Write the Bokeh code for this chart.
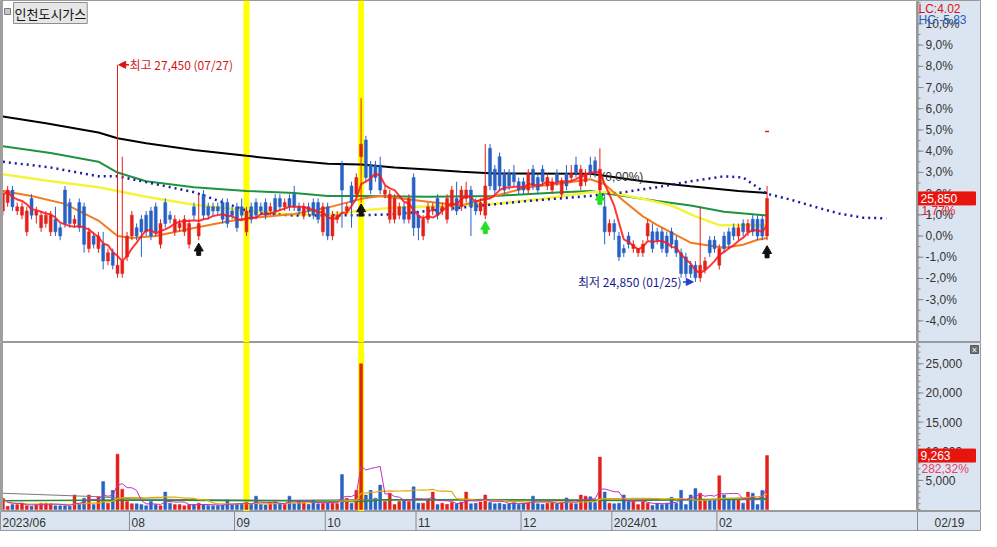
import numpy as np
import pandas as pd
from bokeh.plotting import figure
from bokeh.layouts import column, row
from bokeh.models import (Range1d, Label, Arrow, NormalHead, BoxAnnotation,
                          ColumnDataSource)
from bokeh.core.properties import value
from bokeh.embed import file_html
from bokeh.resources import INLINE

# ---------------- data (daily candles, trading-day index) ----------------
opens = [
    25700, 25800, 25950, 25700, 25650, 25450, 25850, 25650, 25500, 25550,
    25450, 25600, 25500, 25950, 25800, 25550, 25800, 25750, 25250, 25400,
    25250, 25300, 25100, 25200, 24950, 24950, 25150, 25400, 25500, 25600,
    25650, 25700, 25750, 25300, 25800, 25650, 25450, 25500, 25450, 25300,
    25750, 25400, 25900, 25750, 25750, 25750, 25800, 25800, 25700, 25750,
    25750, 25450, 25750, 25800, 25750, 25800, 25700, 25850, 25850, 25750,
    25850, 25900, 25750, 25650, 25750, 25800, 25800, 25450, 25750, 25400,
    25600, 26250, 25700, 26000, 25900, 26350, 26550, 26250, 26250, 26250,
    25900, 25600, 25600, 25650, 25750, 25600, 26100, 25650, 25400, 25600,
    25700, 25850, 25700, 25600, 25750, 25850, 25750, 25850, 25950, 25800,
    25700, 25650, 26450, 26200, 26350, 26150, 26150, 26150, 26050, 26050,
    25950, 26200, 26100, 26200, 26000, 25950, 26150, 25900, 26150, 26100,
    26250, 26000, 26050, 26250, 26300, 25950, 25750, 25450, 25550, 25400,
    25250, 25400, 25250, 25200, 25200, 25400, 25450, 25450, 25450, 25400,
    25450, 25350, 25200, 25150, 25050, 25050, 24900, 25000, 25350, 25350,
    25050, 25400, 25450, 25500, 25400, 25550, 25450, 25600, 25600, 25600,
    25400]
highs = [
    25950, 26000, 26000, 25800, 25800, 25750, 25900, 25750, 25700, 25700,
    25700, 25750, 25550, 26000, 25850, 25650, 25850, 25800, 25500, 25450,
    25450, 25450, 25250, 25250, 27450, 26350, 25450, 25700, 25550, 25650,
    25700, 25750, 25800, 25600, 25850, 25700, 25650, 25600, 25650, 25600,
    25800, 25900, 25950, 25800, 25800, 25800, 25850, 25850, 25750, 25800,
    25850, 25750, 25800, 25850, 25800, 25850, 25800, 25900, 25900, 25850,
    25900, 26000, 25800, 25800, 25800, 25850, 25850, 25800, 25800, 25700,
    25700, 26300, 25800, 26050, 26150, 27050, 26600, 26300, 26300, 26350,
    26000, 25950, 25900, 25800, 25800, 25900, 26150, 25700, 25650, 25800,
    25800, 25900, 25800, 25900, 26000, 26050, 26000, 26050, 26000, 25850,
    25850, 26500, 26500, 26250, 26400, 26200, 26200, 26250, 26100, 26100,
    26200, 26250, 26150, 26250, 26150, 26100, 26200, 26100, 26250, 26250,
    26350, 26250, 26200, 26350, 26350, 26450, 25900, 25600, 25600, 25450,
    25300, 25450, 25350, 25250, 25350, 25600, 25550, 25500, 25500, 25450,
    25500, 25400, 25250, 25200, 25100, 25100, 25750, 25150, 25400, 25400,
    25300, 25450, 25500, 25550, 25550, 25600, 25600, 25650, 25650, 25650,
    26000]
lows = [
    25650, 25750, 25700, 25650, 25600, 25400, 25600, 25550, 25450, 25500,
    25400, 25400, 25350, 25500, 25500, 25500, 25450, 25200, 25200, 25250,
    25200, 25000, 25050, 25000, 24900, 24900, 25100, 25350, 25350, 25150,
    25400, 25350, 25400, 25250, 25500, 25550, 25400, 25450, 25400, 25250,
    25600, 25350, 25600, 25600, 25650, 25650, 25550, 25500, 25600, 25450,
    25600, 25400, 25550, 25600, 25650, 25600, 25650, 25650, 25700, 25700,
    25700, 25700, 25650, 25600, 25650, 25600, 25550, 25400, 25350, 25350,
    25550, 25500, 25650, 25500, 25850, 25800, 26050, 25900, 26050, 25900,
    25850, 25550, 25550, 25600, 25550, 25550, 25400, 25350, 25350, 25550,
    25650, 25600, 25650, 25550, 25700, 25650, 25700, 25800, 25400, 25650,
    25650, 25600, 25950, 25900, 25950, 25900, 25950, 26000, 25900, 25900,
    25900, 25950, 25900, 26000, 25950, 25900, 26000, 25850, 25950, 26050,
    26100, 25950, 26000, 26100, 26100, 25900, 25300, 25400, 25350, 25100,
    25150, 25250, 25200, 25150, 25150, 25350, 25200, 25300, 25200, 25150,
    25250, 25150, 24900, 24900, 24900, 24850, 24850, 24950, 25150, 25200,
    25000, 25200, 25250, 25350, 25350, 25400, 25400, 25400, 25350, 25350,
    25350]
closes = [
    25900, 25950, 25750, 25750, 25750, 25700, 25650, 25700, 25650, 25650,
    25650, 25450, 25400, 25550, 25550, 25600, 25500, 25300, 25450, 25300,
    25400, 25100, 25200, 25050, 25050, 25100, 25400, 25650, 25400, 25450,
    25450, 25400, 25450, 25550, 25550, 25600, 25600, 25550, 25600, 25550,
    25650, 25550, 25650, 25650, 25700, 25700, 25600, 25550, 25650, 25500,
    25650, 25700, 25600, 25650, 25700, 25650, 25750, 25700, 25750, 25800,
    25750, 25750, 25700, 25750, 25700, 25650, 25600, 25750, 25400, 25650,
    25650, 25950, 25750, 25800, 26100, 26500, 26100, 25950, 26100, 25950,
    25950, 25900, 25850, 25750, 25600, 25850, 25500, 25500, 25600, 25750,
    25750, 25650, 25750, 25850, 25950, 25700, 25950, 25950, 25750, 25700,
    25800, 26000, 26000, 25950, 26000, 25950, 26000, 26050, 25950, 25950,
    26150, 26000, 25950, 26050, 26100, 26050, 26050, 26050, 26000, 26150,
    26150, 26200, 26150, 26150, 26150, 26200, 25450, 25550, 25450, 25150,
    25200, 25300, 25300, 25250, 25300, 25550, 25250, 25350, 25250, 25200,
    25300, 25200, 24950, 24950, 24950, 24900, 25050, 25100, 25200, 25250,
    25250, 25250, 25300, 25400, 25500, 25450, 25550, 25450, 25400, 25400,
    25850]
volumes = [
    1950, 550, 850, 850, 1100, 650, 550, 850, 1100, 1100,
    1000, 650, 650, 650, 550, 2500, 1000, 1950, 2500, 850,
    2200, 4800, 1100, 3300, 9500, 3500, 1400, 1000, 1000, 850,
    650, 1400, 850, 650, 3000, 1100, 850, 850, 650, 850,
    850, 1100, 850, 700, 650, 700, 800, 1650, 800, 900,
    1000, 1200, 900, 2300, 900, 800, 1200, 1300, 1100, 900,
    2300, 1000, 1500, 1200, 900, 1600, 1000, 1100, 1300, 1100,
    1000, 6000, 1950, 1100, 3300, 25000, 2500, 3300, 1950, 4200,
    1400, 2800, 850, 1400, 1650, 1400, 3900, 1100, 1100, 1650,
    3000, 850, 1100, 900, 1200, 1000, 1300, 3000, 1000, 1100,
    1300, 2500, 1200, 1000, 1100, 900, 1000, 1200, 900, 1100,
    1300, 2300, 1000, 900, 1100, 1200, 1000, 1300, 2000, 1100,
    1000, 2500, 2300, 2200, 1200, 9000, 3000, 1100, 1000, 1100,
    2500, 1400, 1400, 850, 1400, 1100, 700, 1100, 850, 1100,
    2100, 1100, 3300, 850, 2500, 3600, 2800, 1650, 1650, 1800,
    5800, 2500, 1950, 1800, 1650, 1100, 3000, 2800, 850, 3281,
    9263]

# moving averages (index, price)
ma20_idx = [0, 6, 13, 20, 24, 27, 32, 37, 40, 47, 51, 61, 68, 75, 79, 89, 96, 103, 110, 117,
            123, 126, 130, 134, 137, 144, 151, 155, 158, 160]
ma20_val = [25940, 25880, 25785, 25585, 25400, 25375, 25400, 25460, 25495, 25575,
            25610, 25665, 25740, 25845, 25880, 25810, 25765, 25880, 25985, 26030,
            26080, 26020, 25820, 25635, 25530, 25320, 25260, 25295, 25355, 25375]
ma60_idx = [0, 9, 20, 30, 40, 51, 61, 68, 75, 82, 96, 103, 113, 123, 127, 134, 140, 145, 150, 160]
ma60_val = [26140, 26065, 25985, 25870, 25775, 25705, 25655, 25655, 25705, 25740,
            25765, 25785, 25845, 25925, 25925, 25845, 25765, 25635, 25530, 25530]
ma120_idx = [0, 10, 20, 24, 30, 40, 51, 61, 68, 75, 89, 103, 117, 123, 130, 137, 144, 151, 160]
ma120_val = [26475, 26395, 26290, 26160, 26055, 25985, 25940, 25915, 25880, 25880,
             25870, 25880, 25925, 25940, 25880, 25820, 25765, 25690, 25645]
ma240_idx = [0, 9, 20, 24, 30, 40, 51, 61, 68, 75, 82, 89, 96, 103, 123, 134, 144, 154, 160]
ma240_val = [26830, 26750, 26640, 26570, 26510, 26430, 26360, 26300, 26265, 26255,
             26220, 26195, 26170, 26150, 26145, 26055, 25995, 25940, 25915]
span_idx = [0, 10, 20, 24, 30, 40, 47, 51, 54, 61, 75, 82, 96, 110, 123, 130, 137, 144, 151,
            155, 160, 165, 170, 175, 180, 185]
span_val = [26290, 26220, 26115, 26115, 26045, 25925, 25785, 25705, 25670, 25645,
            25650, 25660, 25740, 25820, 25880, 25925, 25985, 26055, 26115, 26100,
            25905, 25835, 25750, 25670, 25620, 25610]
vma_green_idx = [0, 27, 60, 75, 80, 100, 130, 160]
vma_green_val = [1500, 1650, 1500, 1400, 1700, 1650, 1550, 1850]
vma_gray_idx = [0, 20, 27, 40, 60, 75, 100, 130, 160]
vma_gray_val = [2800, 2200, 1850, 1700, 1600, 1700, 1750, 1650, 1700]

base_price = 25400          # 0,0% reference (previous close)
pct_ticks = list(range(-4, 11))
pct_minor = [k / 2 for k in range(-10, 23)]
vol_ticks = [5000, 10000, 15000, 20000, 25000]
vol_minor = list(range(0, 29000, 1000))
month_labels = ["2023/06", "08", "09", "10", "11", "12", "2024/01", "02"]
month_start = [0, 27, 49, 68, 87, 109, 128, 150]
last_date = "02/19"
high_date = "07/27"
low_date = "01/25"
highlight_days = [51, 75]
signal_idx = [41, 75, 101, 125, 160]
signal_price = [25300, 25770, 25560, 25910, 25270]
signal_color = ["#111111", "#111111", "#22e022", "#22e022", "#111111"]
level_text = "(0,00%)"
level_idx = 125.3
level_price = 26110
limit_mark_price = 26650
stock_name = "인천도시가스"
lc_text = "LC:4.02"
hc_text = "HC:-5,83"

# ---------------- styling / layout constants ----------------
RED = "#e3211b"
BLUE = "#2861c4"
AXIS_BG = "#dbe5f1"
EDGE = "#9a9a9a"
TICK = "#8a8a8a"
W = 981
RIGHT = 64
FRAME_W = W - RIGHT
H_PRICE = 342
H_VOL = 169
H_DATE = 20
X0, X1 = -0.5, 191.5
ux = (X1 - X0) / FRAME_W
P_LO, P_HI = 24125, 28220
uyp = (P_HI - P_LO) / H_PRICE
V_LO, V_HI = -330, 28650
uyv = (V_HI - V_LO) / H_VOL
FONT = "Liberation Sans"
KFONT = "Noto Sans CJK KR"

o = np.array(opens, float)
h = np.array(highs, float)
l = np.array(lows, float)
c = np.array(closes, float)
v = np.array(volumes, float)
n = len(c)
idx = np.arange(n)
top = np.maximum(o, c)
bot = np.minimum(o, c)
h = np.maximum(h, top)
l = np.minimum(l, bot)
col = np.where(c >= o, RED, BLUE)
src = ColumnDataSource(dict(x=idx, h=h, l=l, top=top, bot=bot, color=col, vol=v))
ma5 = pd.Series(c).rolling(5, min_periods=1).mean().values
vma5 = pd.Series(v).rolling(5, min_periods=1).mean().values
vma20 = pd.Series(v).rolling(20, min_periods=1).mean().values

xr = Range1d(X0, X1)
yr_p = Range1d(P_LO, P_HI)
yr_v = Range1d(V_LO, V_HI)


def panel(width, height, x_range, y_range, bg="white"):
    f = figure(width=width, height=height, x_range=x_range, y_range=y_range,
               output_backend="svg", toolbar_location=None, x_axis_location=None,
               y_axis_location=None, title=None, min_border=0,
               background_fill_color=bg, border_fill_color=bg, outline_line_color=EDGE)
    f.xgrid.visible = False
    f.ygrid.visible = False
    return f


def axis_panel(y_range, height, major, minor, labels):
    """Right-hand value scale, drawn on the shared y range."""
    a = panel(RIGHT, height, Range1d(0, RIGHT), y_range, bg=AXIS_BG)
    a.segment(x0=[0.5], y0=[y_range.start], x1=[0.5], y1=[y_range.end],
              line_color=TICK, line_width=1)
    a.segment(x0=0, y0=minor, x1=3, y1=minor, line_color=TICK, line_width=1)
    a.segment(x0=0, y0=major, x1=6, y1=major, line_color=TICK, line_width=1)
    a.text(x=8, y=major, text=labels, text_baseline="middle", text_font=value(FONT),
           text_font_size="12px", text_color="#333333")
    return a


def left_edge(f, y_range):
    f.segment(x0=[X0], y0=[y_range.start], x1=[X0], y1=[y_range.end],
              line_color="#a0a0a0", line_width=5)


# ---------------- price panel ----------------
p1 = panel(FRAME_W, H_PRICE, xr, yr_p)
for d in highlight_days:
    p1.add_layout(BoxAnnotation(left=d - 0.62, right=d + 0.62, fill_color="#ffff00",
                                fill_alpha=1.0, line_alpha=0, level="underlay"))

p1.line(ma240_idx, ma240_val, line_color="#000000", line_width=2)
p1.line(ma120_idx, ma120_val, line_color="#1e9440", line_width=2)
p1.line(ma60_idx, ma60_val, line_color="#f4f43c", line_width=2.5)
p1.line(span_idx, span_val, line_color="#1c1ca0", line_width=2.5, line_dash="2 4")
p1.text(x=[level_idx], y=[level_price], text=[level_text], text_baseline="middle",
        text_font=value(FONT), text_font_size="12px", text_color="#333333")
p1.line(ma20_idx, ma20_val, line_color="#f57a22", line_width=2)

p1.segment("x", "h", "x", "l", line_color="color", line_width=1, source=src)
p1.vbar(x="x", width=0.62, top="top", bottom="bot", fill_color="color",
        line_color="color", line_width=0.5, source=src)
p1.line(idx, ma5, line_color="#ff1414", line_width=2, line_alpha=0.85)

sig_y = np.array(signal_price, float)
p1.scatter(signal_idx, sig_y - 4 * uyp, marker="triangle", size=9,
           fill_color=signal_color, line_color=signal_color)
p1.scatter(signal_idx, sig_y - 9 * uyp, marker="square", size=4,
           fill_color=signal_color, line_color=signal_color)
p1.scatter([n - 1], [limit_mark_price], marker="dash", size=4, line_color=RED, line_width=1.5)

hi_i = int(np.argmax(h)); hi_v = int(h[hi_i])
lo_i = int(np.argmin(l)); lo_v = int(l[lo_i])
p1.add_layout(Arrow(end=NormalHead(size=7, fill_color="#e01010", line_color="#e01010"),
                    x_start=hi_i + 2.4, y_start=hi_v, x_end=hi_i + 0.25, y_end=hi_v,
                    line_color="#e01010", line_width=1.5))
p1.add_layout(Label(x=hi_i + 2.5, y=hi_v, text=f"최고 {hi_v:,} ({high_date})",
                    text_baseline="middle", text_color="#d01818", text_font=KFONT,
                    text_font_size="12px"))
p1.add_layout(Arrow(end=NormalHead(size=7, fill_color="#1f3fd0", line_color="#1f3fd0"),
                    x_start=lo_i - 2.6, y_start=lo_v, x_end=lo_i - 0.45, y_end=lo_v,
                    line_color="#1f3fd0", line_width=1.5))
p1.add_layout(Label(x=lo_i - 2.9, y=lo_v, text=f"최저 {lo_v:,} ({low_date})",
                    text_align="right", text_baseline="middle", text_color="#1a1a8c",
                    text_font=KFONT, text_font_size="12px"))
left_edge(p1, yr_p)

# title box
p1.scatter([X0 + 7 * ux], [P_HI - 11 * uyp], marker="square", size=6,
           fill_color="#c8c8c8", line_color="#7a7a7a")
p1.add_layout(Label(x=X0 + 13 * ux, y=P_HI - 2 * uyp, text=stock_name, text_baseline="top",
                    text_font=KFONT, text_font_size="13px", text_color="#111111",
                    background_fill_color="#e6e6e6", border_line_color="#8f8f8f",
                    padding=1))

# price scale
pct_vals = [base_price * (1 + k / 100) for k in pct_ticks]
pct_labels = [f"{k:.1f}".replace(".", ",") + "%" for k in pct_ticks]
a1 = axis_panel(yr_p, H_PRICE, pct_vals, [base_price * (1 + k / 100) for k in pct_minor],
                pct_labels)
a1.text(x=[1], y=[P_HI - 1 * uyp], text=[lc_text], text_baseline="top",
        text_font=value(FONT), text_font_size="12px", text_color="#e01010")
a1.text(x=[1], y=[P_HI - 12 * uyp], text=[hc_text], text_baseline="top",
        text_font=value(FONT), text_font_size="12px", text_color="#1f5fc0")
last_c = float(c[-1])
chg = (last_c / base_price - 1) * 100
a1.quad(left=[1], right=[58], bottom=[last_c - 6.5 * uyp], top=[last_c + 6.5 * uyp],
        fill_color="#e8150e", line_color="#e8150e")
a1.text(x=[3], y=[last_c], text=[f"{int(last_c):,}"], text_baseline="middle",
        text_font=value(FONT), text_font_size="12px", text_color="white")
a1.text(x=[4], y=[last_c - 12.5 * uyp], text=[f"{chg:.2f}".replace(".", ",") + "%"],
        text_baseline="middle", text_font=value(FONT), text_font_size="12px",
        text_color="#e02020")

# ---------------- volume panel ----------------
p2 = panel(FRAME_W, H_VOL, xr, yr_v)
for d in highlight_days:
    p2.add_layout(BoxAnnotation(left=d - 0.62, right=d + 0.62, fill_color="#ffff00",
                                fill_alpha=1.0, line_alpha=0, level="underlay"))
p2.vbar(x="x", width=0.62, top="vol", bottom=0, fill_color="color", line_color="color",
        line_width=0.5, source=src)
p2.line(vma_gray_idx, vma_gray_val, line_color="#7a7a7a", line_width=1)
p2.line(vma_green_idx, vma_green_val, line_color="#2a8a3a", line_width=1.5)
p2.line(idx, vma20, line_color="#e8a800", line_width=1.2)
p2.line(idx, vma5, line_color="#c030c0", line_width=1)
left_edge(p2, yr_v)

a2 = axis_panel(yr_v, H_VOL, vol_ticks, vol_minor, [f"{t:,}" for t in vol_ticks])
last_v = float(v[-1])
vchg = v[-1] / v[-2] * 100
a2.quad(left=[1], right=[58], bottom=[last_v - 6.5 * uyv], top=[last_v + 6.5 * uyv],
        fill_color="#e8150e", line_color="#e8150e")
a2.text(x=[3], y=[last_v], text=[f"{int(last_v):,}"], text_baseline="middle",
        text_font=value(FONT), text_font_size="12px", text_color="white")
a2.text(x=[4], y=[last_v - 13 * uyv], text=[f"{vchg:.2f}".replace(".", ",") + "%"],
        text_baseline="middle", text_font=value(FONT), text_font_size="12px",
        text_color="#e8406a")
a2.quad(left=[53], right=[61], bottom=[V_HI - 11 * uyv], top=[V_HI - 3 * uyv],
        fill_color="#6f6f6f", line_color="#5a5a5a")
a2.text(x=[57], y=[V_HI - 7 * uyv], text=["×"], text_align="center", text_baseline="middle",
        text_font=value(FONT), text_font_size="9px", text_color="white")

# ---------------- date strip ----------------
full_span = (X1 - X0) * W / FRAME_W
p3 = panel(W, H_DATE, Range1d(X0, X0 + full_span), Range1d(0, 1), bg=AXIS_BG)
ms = np.array(month_start, float) - 0.5
p3.segment(x0=ms, y0=0, x1=ms, y1=1, line_color=TICK, line_width=1)
p3.text(x=ms, y=0.45, text=month_labels, x_offset=2, text_baseline="middle",
        text_font=value(FONT), text_font_size="12px", text_color="#333333")
p3.segment(x0=[X1], y0=[0], x1=[X1], y1=[1], line_color=TICK, line_width=1)
p3.text(x=[X1 + 32 * ux], y=[0.45], text=[last_date], text_align="center",
        text_baseline="middle", text_font=value(FONT), text_font_size="12px",
        text_color="#333333")

layout = column(row(p1, a1, spacing=0), row(p2, a2, spacing=0), p3, spacing=0)
open("out.html", "w").write(file_html(layout, INLINE, title="인천도시가스"))
